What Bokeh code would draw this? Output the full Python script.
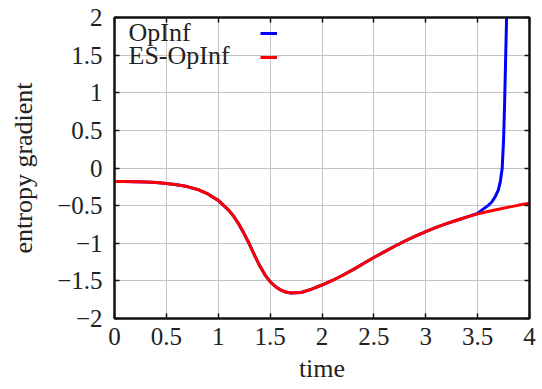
from bokeh.plotting import figure
from bokeh.models import Range1d, FixedTicker, LinearAxis, Label, Legend, LegendItem
from bokeh.embed import file_html
from bokeh.resources import INLINE

# ---- data ----
time_es = [0.0, 0.1, 0.2, 0.3, 0.4, 0.5, 0.6, 0.7, 0.8, 0.9, 1.0, 1.1, 1.15, 1.2, 1.25,
           1.3, 1.35, 1.4, 1.45, 1.5, 1.55, 1.6, 1.65, 1.7, 1.8, 1.9, 2.0, 2.1, 2.2, 2.3,
           2.4, 2.5, 2.6, 2.7, 2.8, 2.9, 3.0, 3.1, 3.2, 3.3, 3.4, 3.5, 3.6, 3.7, 3.8, 3.9, 4.0]
es_opinf = [-0.180, -0.181, -0.183, -0.187, -0.194, -0.205, -0.222, -0.247, -0.285, -0.345,
            -0.430, -0.560, -0.645, -0.750, -0.875, -1.010, -1.160, -1.300, -1.420, -1.510,
            -1.575, -1.620, -1.648, -1.660, -1.655, -1.610, -1.555, -1.495, -1.425, -1.350,
            -1.270, -1.190, -1.115, -1.040, -0.970, -0.905, -0.845, -0.790, -0.740, -0.695,
            -0.650, -0.610, -0.578, -0.548, -0.520, -0.493, -0.467]

time_op = [0.0, 0.1, 0.2, 0.3, 0.4, 0.5, 0.6, 0.7, 0.8, 0.9, 1.0, 1.1, 1.15, 1.2, 1.25,
           1.3, 1.35, 1.4, 1.45, 1.5, 1.55, 1.6, 1.65, 1.7, 1.8, 1.9, 2.0, 2.1, 2.2, 2.3,
           2.4, 2.5, 2.6, 2.7, 2.8, 2.9, 3.0, 3.1, 3.2, 3.3, 3.4, 3.5, 3.55, 3.6, 3.635,
           3.67, 3.70, 3.72, 3.737, 3.75, 3.76, 3.77, 3.78, 3.79]
opinf = [-0.180, -0.181, -0.183, -0.187, -0.194, -0.205, -0.222, -0.247, -0.285, -0.345,
         -0.430, -0.560, -0.645, -0.750, -0.875, -1.010, -1.160, -1.300, -1.420, -1.510,
         -1.575, -1.620, -1.648, -1.660, -1.655, -1.610, -1.555, -1.495, -1.425, -1.350,
         -1.270, -1.190, -1.115, -1.040, -0.970, -0.905, -0.845, -0.790, -0.740, -0.695,
         -0.650, -0.605, -0.550, -0.500, -0.455, -0.380, -0.290, -0.170, 0.0, 0.37,
         0.85, 1.45, 2.05, 2.6]

x_ticks = [0, 0.5, 1, 1.5, 2, 2.5, 3, 3.5, 4]
x_tick_labels = ["0", "0.5", "1", "1.5", "2", "2.5", "3", "3.5", "4"]
y_ticks = [-2, -1.5, -1, -0.5, 0, 0.5, 1, 1.5, 2]
y_tick_labels = ["\u22122", "\u22121.5", "\u22121", "\u22120.5", "0", "0.5", "1", "1.5", "2"]

series_names = ["OpInf", "ES-OpInf"]
series_colors = ["#0000ff", "#ff0000"]

FONT = "Liberation Serif"
FS = "25px"
FS_LABEL = "26px"

p = figure(frame_width=415, frame_height=301,
           x_range=Range1d(0, 4), y_range=Range1d(-2, 2),
           output_backend="svg", toolbar_location=None,
           min_border_left=114, min_border_right=13,
           min_border_top=17, min_border_bottom=71)

p.background_fill_color = "white"
p.border_fill_color = "white"
p.outline_line_color = "#111111"
p.outline_line_width = 2

p.xaxis.ticker = FixedTicker(ticks=x_ticks)
p.yaxis.ticker = FixedTicker(ticks=y_ticks)
p.xaxis.major_label_overrides = dict(zip(x_ticks, x_tick_labels))
p.yaxis.major_label_overrides = dict(zip(y_ticks, y_tick_labels))

for ax in (p.xaxis[0], p.yaxis[0]):
    ax.major_tick_in = 5
    ax.major_tick_out = 0
    ax.minor_tick_line_color = None
    ax.axis_line_color = "#111111"
    ax.axis_line_width = 2
    ax.major_tick_line_color = "#111111"
    ax.major_tick_line_width = 1.5
    ax.major_label_text_font = FONT
    ax.major_label_text_font_size = FS
    ax.major_label_text_color = "#222222"
    ax.axis_label_text_font = FONT
    ax.axis_label_text_font_size = FS_LABEL
    ax.axis_label_text_font_style = "normal"
    ax.axis_label_text_color = "#222222"

p.xaxis.axis_label = "time"
p.yaxis.axis_label = "entropy gradient"
p.xaxis.major_label_standoff = 9
p.yaxis.major_label_standoff = 12
p.xaxis.axis_label_standoff = 6
p.yaxis.axis_label_standoff = 16

# mirrored ticks on top and right (no labels)
for loc, ticks in (("above", x_ticks), ("right", y_ticks)):
    ax = LinearAxis(ticker=FixedTicker(ticks=ticks),
                    major_label_text_font_size="1px",
                    major_label_text_color=None,
                    major_label_standoff=0,
                    major_tick_in=5, major_tick_out=0,
                    minor_tick_line_color=None,
                    axis_line_color="#111111", axis_line_width=2,
                    major_tick_line_color="#111111", major_tick_line_width=1.5)
    p.add_layout(ax, loc)

p.grid.grid_line_color = "#c4c4c4"
p.grid.grid_line_width = 1

r_op = p.line(time_op, opinf, line_color=series_colors[0], line_width=3)
r_es = p.line(time_es, es_opinf, line_color=series_colors[1], line_width=3)

# legend: text on the left, line sample on the right (gnuplot style)
legend = Legend(items=[LegendItem(label=" ", renderers=[r_op]),
                       LegendItem(label=" ", renderers=[r_es])],
                location=(146, 249), orientation="vertical",
                glyph_width=17, glyph_height=24, label_height=24, label_width=1,
                label_text_font_size="8px", spacing=0, padding=0, margin=0,
                border_line_color=None, background_fill_alpha=0)
p.add_layout(legend, "center")

for i, name in enumerate(series_names):
    p.add_layout(Label(x=14, y=301 - 15 - 23 * i, x_units="screen", y_units="screen",
                       text=name, text_font=FONT, text_font_size=FS_LABEL,
                       text_color="#222222", text_baseline="alphabetic"))

open("out.html", "w").write(file_html(p, INLINE))
